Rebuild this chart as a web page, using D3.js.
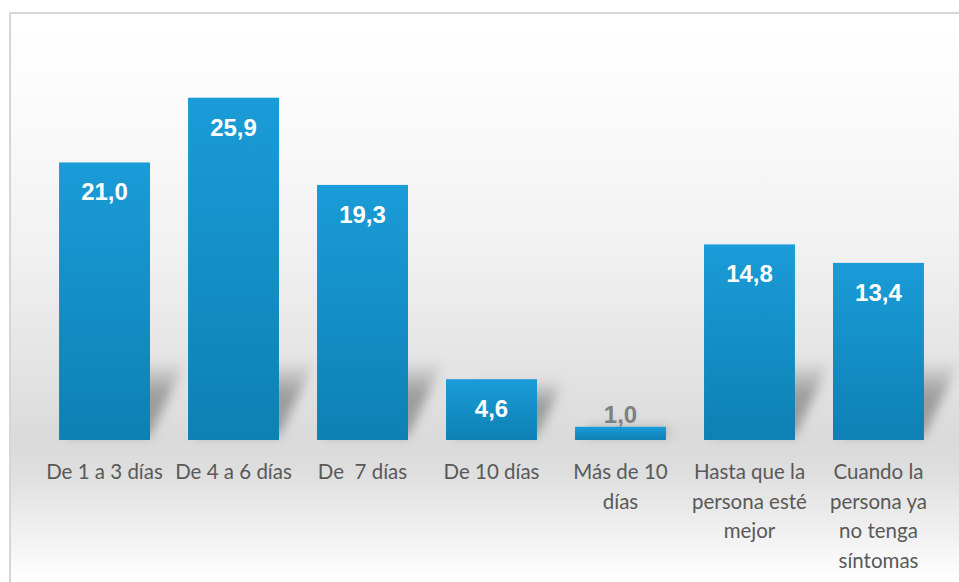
<!DOCTYPE html>
<html>
<head>
<meta charset="utf-8">
<script src="https://cdn.jsdelivr.net/npm/d3@7"></script>
<style>
  html, body { margin: 0; padding: 0; background: #ffffff; }
  svg { display: block; }
</style>
</head>
<body>
<svg id="chart" width="959" height="582"></svg>
<script>
// Duración (días) – porcentaje de respuestas por categoría
const categories = [
  ["De 1 a 3 días"],
  ["De 4 a 6 días"],
  ["De  7 días"],
  ["De 10 días"],
  ["Más de 10", "días"],
  ["Hasta que la", "persona esté", "mejor"],
  ["Cuando la", "persona ya", "no tenga", "síntomas"]
];
const values = [21.0, 25.9, 19.3, 4.6, 1.0, 14.8, 13.4];
const yDomain = [0, 30];

const baseY = 440;

const es = d3.formatLocale({ decimal: ",", thousands: ".", grouping: [3], currency: ["", " €"] });
const fmt = es.format(".1f");

const svg = d3.select("#chart");
const defs = svg.append("defs");

// panel background: light at the top, grey band at the floor, fading out below
const bg = defs.append("linearGradient")
  .attr("id", "bgGrad").attr("gradientUnits", "userSpaceOnUse")
  .attr("x1", 0).attr("y1", 13).attr("x2", 0).attr("y2", 582);
[[13, "#ffffff"], [120, "#fafafa"], [260, "#f0f0f0"], [380, "#e2e2e2"], [440, "#dadada"], [470, "#dedede"], [582, "#ffffff"]]
  .forEach(([y, c]) => bg.append("stop").attr("offset", (y - 13) / (582 - 13)).attr("stop-color", c));

// bar fill: brighter at the top, deeper blue at the bottom
const barGrad = defs.append("linearGradient")
  .attr("id", "barGrad").attr("x1", 0).attr("y1", 0).attr("x2", 0).attr("y2", 1);
barGrad.append("stop").attr("offset", 0).attr("stop-color", "#1a9cd8");
barGrad.append("stop").attr("offset", 1).attr("stop-color", "#0e80b3");

// cast shadow: dark near the floor, fading upward
const shGrad = defs.append("linearGradient")
  .attr("id", "shGrad").attr("x1", 0).attr("y1", 1).attr("x2", 0).attr("y2", 0);
shGrad.append("stop").attr("offset", 0).attr("stop-color", "#000").attr("stop-opacity", 0.3);
shGrad.append("stop").attr("offset", 0.55).attr("stop-color", "#000").attr("stop-opacity", 0.3);
shGrad.append("stop").attr("offset", 1).attr("stop-color", "#000").attr("stop-opacity", 0);

defs.append("filter").attr("id", "shBlur")
  .attr("x", "-50%").attr("y", "-50%").attr("width", "200%").attr("height", "200%")
  .append("feGaussianBlur").attr("stdDeviation", 5.5);

// chart frame
svg.append("rect")
  .attr("x", 10).attr("y", 13).attr("width", 980).attr("height", 600)
  .attr("fill", "url(#bgGrad)")
  .attr("stroke", "#d6d6d6").attr("stroke-width", 2);

const x = d3.scaleBand()
  .domain(d3.range(categories.length))
  .range([21, 962])
  .padding(0.295);

const y = d3.scaleLinear().domain(yDomain).range([baseY, 43.5]);

// shadows behind the bars
const shear = 0.45;
svg.append("g").attr("filter", "url(#shBlur)")
  .selectAll("path").data(values).join("path")
  .attr("d", (v, i) => {
    const x0 = x(i), x1 = x(i) + x.bandwidth();
    const h = Math.min(baseY - y(v), 80);
    const dx = h * shear;
    return `M${x0 + 8},${baseY - 4} L${x1},${baseY - 4} L${x1 + dx},${baseY - h} L${x0 + 8 + dx},${baseY - h} Z`;
  })
  .attr("fill", "url(#shGrad)");

// bars
svg.append("g").selectAll("rect").data(values).join("rect")
  .attr("x", (v, i) => x(i))
  .attr("y", v => y(v))
  .attr("width", x.bandwidth())
  .attr("height", v => baseY - y(v))
  .attr("fill", "url(#barGrad)");

// value labels: inside the bar top when there is room, above it otherwise
const inside = v => baseY - y(v) > 45;
svg.append("g").selectAll("text").data(values).join("text")
  .attr("x", (v, i) => x(i) + x.bandwidth() / 2)
  .attr("y", v => (inside(v) ? y(v) + 38 : y(v) - 4))
  .attr("text-anchor", "middle")
  .attr("font-family", "'Liberation Sans', Arial, sans-serif")
  .attr("font-weight", "bold")
  .attr("font-size", 24)
  .attr("fill", v => (inside(v) ? "#ffffff" : "#808080"))
  .text(v => fmt(v));

// category labels (wrapped)
const lab = svg.append("g").selectAll("text").data(categories).join("text")
  .attr("x", (d, i) => x(i) + x.bandwidth() / 2)
  .attr("y", 479)
  .attr("text-anchor", "middle")
  .attr("font-family", "Lato, 'Open Sans', sans-serif")
  .attr("font-size", 20.5)
  .attr("fill", "#595959")
  .style("white-space", "pre");
lab.selectAll("tspan").data(d => d).join("tspan")
  .attr("x", function () { return d3.select(this.parentNode).attr("x"); })
  .attr("dy", (d, j) => (j === 0 ? 0 : 29.7))
  .text(d => d);
</script>
</body>
</html>
